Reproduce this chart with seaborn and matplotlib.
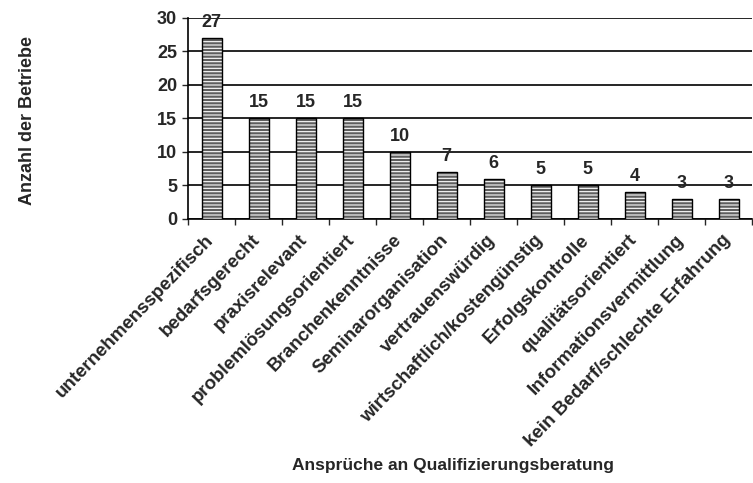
import seaborn as sns
import pandas as pd
import matplotlib.pyplot as plt
from matplotlib.transforms import ScaledTranslation

categories = [
    "unternehmensspezifisch", "bedarfsgerecht", "praxisrelevant",
    "problemlösungsorientiert", "Branchenkenntnisse", "Seminarorganisation",
    "vertrauenswürdig", "wirtschaftlich/kostengünstig", "Erfolgskontrolle",
    "qualitätsorientiert", "Informationsvermittlung",
    "kein Bedarf/schlechte Erfahrung",
]
counts = [27, 15, 15, 15, 10, 7, 6, 5, 5, 4, 3, 3]
y_ticks = [0, 5, 10, 15, 20, 25, 30]

df = pd.DataFrame({"kategorie": categories, "anzahl": counts})

sns.set_style("white")
plt.rcParams["font.family"] = ["Liberation Sans", "DejaVu Sans"]
plt.rcParams["hatch.linewidth"] = 0.8

fig = plt.figure(figsize=(7.53, 4.83), dpi=100)
ax = fig.add_axes([0.25, 0.547, 0.749, 0.416])

# gray bars with white horizontal hatching
sns.barplot(data=df, x="kategorie", y="anzahl", color="#5e5e5e",
            saturation=1, width=0.43, edgecolor="white", linewidth=0,
            hatch="-----", ax=ax, zorder=3)
# black outline on top
sns.barplot(data=df, x="kategorie", y="anzahl", facecolor="none",
            width=0.43, edgecolor="black", linewidth=1.0, ax=ax, zorder=4)

ax.bar_label(ax.containers[1], fontsize=13, fontweight="bold", padding=5)

ax.set_ylim(0, 30)
ax.set_yticks(y_ticks)
ax.set_xlim(-0.5, len(categories) - 0.5)
ax.grid(axis="y", color="black", linewidth=1.2, zorder=0)
ax.set_axisbelow(True)

# ticks between categories
ax.set_xticks([i - 0.5 for i in range(len(categories) + 1)], minor=True)
ax.tick_params(axis="x", which="minor", length=4, width=1, direction="out", bottom=True)
ax.tick_params(axis="x", which="major", length=0, pad=9)
ax.tick_params(axis="y", length=4, width=1, direction="out", left=True, pad=4)

shift = ScaledTranslation(-7 / 100, 0, fig.dpi_scale_trans)
for lbl in ax.get_xticklabels():
    lbl.set_rotation(46)
    lbl.set_ha("right")
    lbl.set_rotation_mode("anchor")
    lbl.set_fontsize(13.5)
    lbl.set_fontweight("bold")
    lbl.set_transform(lbl.get_transform() + shift)
for lbl in ax.get_yticklabels():
    lbl.set_fontsize(13)
    lbl.set_fontweight("bold")

sns.despine(ax=ax, top=True, right=True)
for side in ["left", "bottom"]:
    ax.spines[side].set_linewidth(1.2)
    ax.spines[side].set_color("black")

ax.set_xlabel("Ansprüche an Qualifizierungsberatung", fontsize=12.5, fontweight="bold")
ax.xaxis.set_label_coords(0.469, -1.19)
ax.set_ylabel("Anzahl der Betriebe", fontsize=13, fontweight="bold")
ax.yaxis.set_label_coords(-0.27, 0.49)

plt.savefig("out.png", dpi=100)
